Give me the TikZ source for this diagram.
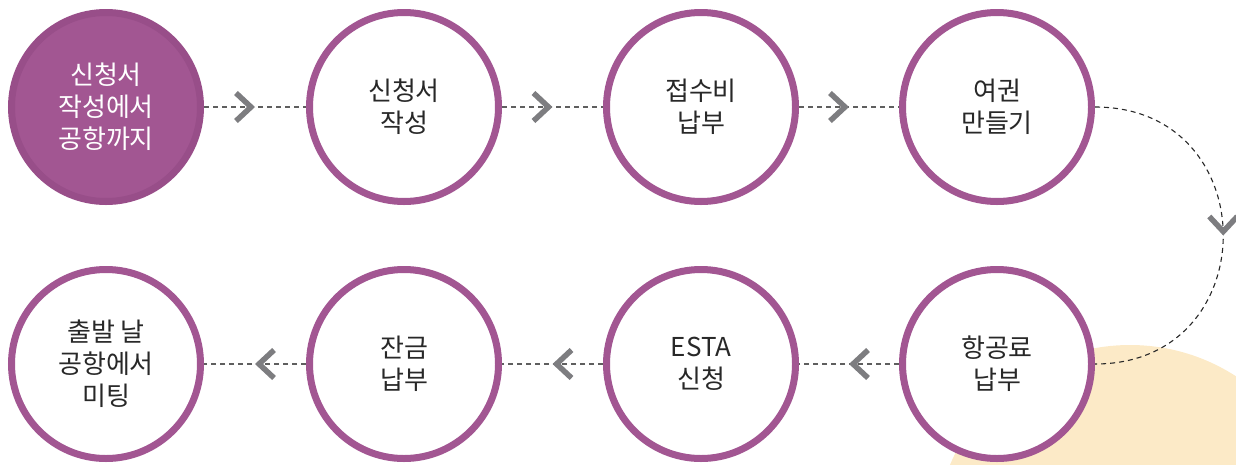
\documentclass[tikz,border=0pt]{standalone}
\usepackage{fontspec}
\setmainfont{Noto Sans CJK KR}
\usetikzlibrary{arrows.meta,decorations.markings}

\definecolor{plum}{RGB}{162,86,146}
\definecolor{darkplum}{RGB}{152,78,137}
\definecolor{cream}{RGB}{252,234,199}
\definecolor{inkgray}{RGB}{40,40,40}
\definecolor{dashgray}{RGB}{95,95,95}
\definecolor{chevgray}{RGB}{125,125,128}

\tikzset{chev/.tip={Straight Barb[length=15pt,width=28pt,line width=5.5pt,color=chevgray]}}

\begin{document}
\begin{tikzpicture}[x=1pt,y=-1pt,
    stage/.style={circle,draw=plum,line width=7pt,fill=white,minimum size=189pt,
      inner sep=0pt,align=center,text=inkgray,font=\fontsize{26}{32}\selectfont},
    startstage/.style={stage,draw=darkplum,fill=plum,text=white},
    link/.style={draw=dashgray,line width=1.3pt,dash pattern=on 5pt off 4pt,
      postaction={decorate},
      decoration={markings,mark=at position 0.5 with {\arrow{chev}}}},
    turn/.style={link,draw=inkgray,line width=1.1pt}]
    \useasboundingbox (0,0) rectangle (1236,464);
    % background blob
    \begin{scope}
        \clip (0,0) rectangle (1236,464);
        \fill[cream] (1130,540) circle[radius=195];
    \end{scope}
    \node[startstage] (A1) at (106,107) {신청서\\작성에서\\공항까지};
    \node[stage] (A2) at (404,107) {신청서\\작성};
    \node[stage] (A3) at (701,107) {접수비\\납부};
    \node[stage] (A4) at (997,107) {여권\\만들기};
    \node[stage] (B4) at (997,364) {항공료\\납부};
    \node[stage] (B3) at (701,364) {ESTA\\신청};
    \node[stage] (B2) at (404,364) {잔금\\납부};
    \node[stage] (B1) at (106,364) {출발 날\\공항에서\\미팅};
    \draw[link] (A1) -- (A2);
    \draw[link] (A2) -- (A3);
    \draw[link] (A3) -- (A4);
    \draw[turn] (A4.east) .. controls +(171,0) and +(171,0) .. (B4.east);
    \draw[link] (B4) -- (B3);
    \draw[link] (B3) -- (B2);
    \draw[link] (B2) -- (B1);
\end{tikzpicture}
\end{document}
